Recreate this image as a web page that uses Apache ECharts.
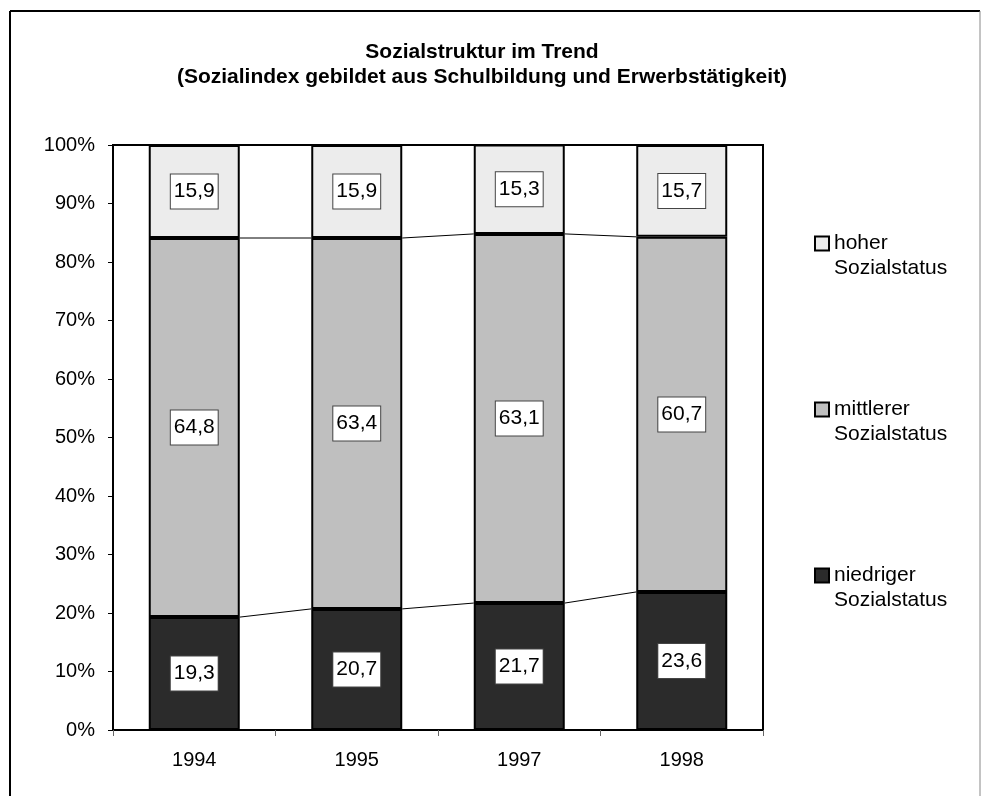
<!DOCTYPE html>
<html>
<head>
<meta charset="utf-8">
<script src="https://cdn.jsdelivr.net/npm/echarts@6/dist/echarts.min.js"></script>
<style>
  html, body { margin: 0; padding: 0; background: #fff; }
  #main { width: 982px; height: 796px; }
</style>
</head>
<body>
<div id="main"></div>
<script>
// Jahre (Kategorien)
const years = ['1994', '1995', '1997', '1998'];
// Anteile in Prozent
const niedrig = [19.3, 20.7, 21.7, 23.6];
const mittel = [64.8, 63.4, 63.1, 60.7];
const hoch = [15.9, 15.9, 15.3, 15.7];
const names = ['niedriger Sozialstatus', 'mittlerer Sozialstatus', 'hoher Sozialstatus'];

const font = 'Liberation Sans, Arial, sans-serif';
const gapRatio = 0.44;

// Verbindungslinien zwischen den Saeulen (Oberkante niedrig bzw. mittel)
const connectors = [];
for (let i = 0; i < years.length - 1; i++) {
  connectors.push([i, niedrig[i], niedrig[i + 1]]);
  connectors.push([i, niedrig[i] + mittel[i], niedrig[i + 1] + mittel[i + 1]]);
}

const fmt = p => p.value.toFixed(1).replace('.', ',');

function barSeries(name, data, color) {
  return {
    name: name,
    type: 'bar',
    stack: 'total',
    data: data,
    barCategoryGap: (gapRatio * 100) + '%',
    itemStyle: { color: color, borderColor: '#000', borderWidth: 2 },
    label: {
      show: true,
      position: 'inside',
      formatter: fmt,
      color: '#000',
      fontFamily: font,
      fontSize: 21,
      backgroundColor: '#fff',
      borderColor: '#444',
      borderWidth: 1,
      padding: [7, 3, 6, 3]
    },
    emphasis: { disabled: true }
  };
}

const chart = echarts.init(document.getElementById('main'));
chart.setOption({
  animation: false,
  title: {
    text: 'Sozialstruktur im Trend\n(Sozialindex gebildet aus Schulbildung und Erwerbstätigkeit)',
    left: 482,
    top: 40,
    padding: 0,
    textAlign: 'center',
    textStyle: { fontFamily: font, fontSize: 21, fontWeight: 'bold', color: '#000', lineHeight: 25 }
  },
  legend: {
    orient: 'vertical',
    left: 814,
    top: 206,
    padding: 0,
    itemGap: 91,
    itemWidth: 14,
    itemHeight: 14,
    icon: 'rect',
    data: ['hoher Sozialstatus', 'mittlerer Sozialstatus', 'niedriger Sozialstatus'],
    formatter: name => '\n' + name.replace(' ', '\n'),
    itemStyle: { borderColor: '#000', borderWidth: 2 },
    textStyle: { fontFamily: font, fontSize: 21, color: '#000', lineHeight: 25 },
    selectedMode: false
  },
  graphic: [
    { type: 'line', shape: { x1: 10, y1: 11, x2: 980, y2: 11 }, style: { stroke: '#000', lineWidth: 2 } },
    { type: 'line', shape: { x1: 10, y1: 11, x2: 10, y2: 800 }, style: { stroke: '#000', lineWidth: 2 } },
    { type: 'line', shape: { x1: 980, y1: 11, x2: 980, y2: 800 }, style: { stroke: '#888', lineWidth: 1 } }
  ],
  grid: {
    left: 113,
    top: 145,
    right: 219,
    bottom: 66,
    show: true,
    borderColor: '#000',
    borderWidth: 2,
    containLabel: false
  },
  xAxis: {
    type: 'category',
    data: years,
    axisLine: { lineStyle: { color: '#000', width: 2 } },
    axisTick: { show: true, length: 6, lineStyle: { color: '#666' } },
    axisLabel: { color: '#000', fontFamily: font, fontSize: 20, margin: 20 }
  },
  yAxis: {
    type: 'value',
    min: 0,
    max: 100,
    interval: 10,
    splitLine: { show: false },
    axisLine: { show: true, lineStyle: { color: '#000', width: 2 } },
    axisTick: { show: true, length: 5, lineStyle: { color: '#000' } },
    axisLabel: { color: '#000', fontFamily: font, fontSize: 20, margin: 18, formatter: '{value}%' }
  },
  series: [
    barSeries(names[0], niedrig, '#2b2b2b'),
    barSeries(names[1], mittel, '#bfbfbf'),
    barSeries(names[2], hoch, '#ececec'),
    {
      type: 'custom',
      name: 'verbindung',
      data: connectors,
      encode: { x: 0, y: 1 },
      silent: true,
      z: 3,
      renderItem: function (params, api) {
        const i = api.value(0);
        const p1 = api.coord([i, api.value(1)]);
        const p2 = api.coord([i + 1, api.value(2)]);
        const half = api.size([1, 0])[0] * (1 - gapRatio) / 2;
        return {
          type: 'line',
          shape: { x1: p1[0] + half, y1: p1[1], x2: p2[0] - half, y2: p2[1] },
          style: { stroke: '#000', lineWidth: 1 }
        };
      }
    }
  ]
});
</script>
</body>
</html>
